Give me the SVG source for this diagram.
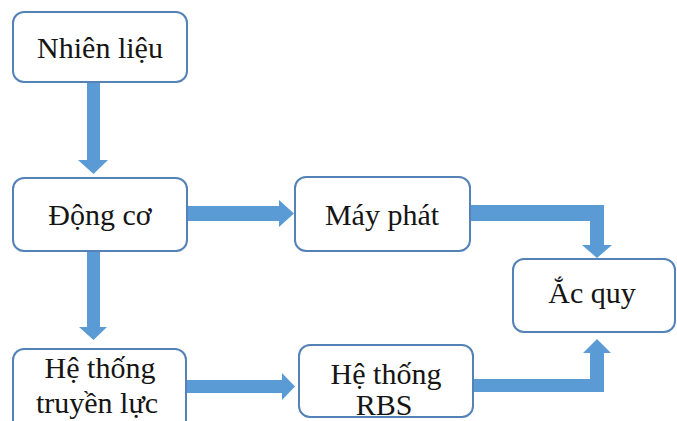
<svg xmlns="http://www.w3.org/2000/svg" width="677" height="421" viewBox="0 0 677 421">
  <style>
    .box { fill: #ffffff; stroke: #5482b6; stroke-width: 2; }
    .lbl { font-size: 30px; fill: #151515; text-anchor: middle; }
    .arr { fill: #5b9bd5; stroke: none; }
  </style>
  <rect width="677" height="421" fill="#ffffff"/>

  <!-- connectors: block arrows -->
  <g id="connectors">
    <polygon class="arr" points="87,82 100,82 100,160 108,160 93.5,174 78,160 87,160"/>
    <polygon class="arr" points="187,206 279,206 279,200 294,213.5 279,227 279,221 187,221"/>
    <polygon class="arr" points="470,205 604,205 604,245 612,245 597,258 582,245 590,245 590,221 470,221"/>
    <polygon class="arr" points="87,252 100,252 100,327 107,327 93.5,340 79,327 87,327"/>
    <polygon class="arr" points="187,380 282,380 282,373 295,386.5 282,400 282,393 187,393"/>
    <polygon class="arr" points="473,379 590,379 590,353 583,353 597,339 611,353 604,353 604,392 473,392"/>
  </g>

  <g font-family="'Liberation Serif', 'DejaVu Serif', serif">
    <g id="nhien-lieu">
      <rect class="box" x="13" y="12" width="174" height="70" rx="11"/>
      <text class="lbl" x="100" y="58">Nhiên liệu</text>
    </g>

    <g id="dong-co">
      <rect class="box" x="13" y="178" width="174" height="73" rx="11"/>
      <text class="lbl" x="100" y="225">Động cơ</text>
    </g>

    <g id="may-phat">
      <rect class="box" x="295" y="177" width="175" height="74" rx="11"/>
      <text class="lbl" x="382" y="225">Máy phát</text>
    </g>

    <g id="ac-quy">
      <rect class="box" x="513" y="259" width="162" height="73" rx="11"/>
      <text class="lbl" x="592" y="303">Ắc quy</text>
    </g>

    <g id="truyen-luc">
      <rect class="box" x="13" y="349" width="173" height="90" rx="11"/>
      <text class="lbl" x="100" y="378">Hệ thống</text>
      <text class="lbl" x="97" y="413">truyền lực</text>
    </g>

    <g id="rbs">
      <rect class="box" x="299" y="345" width="174" height="72" rx="11"/>
      <text class="lbl" x="386" y="384">Hệ thống</text>
      <text class="lbl" x="384" y="415">RBS</text>
    </g>
  </g>
</svg>
